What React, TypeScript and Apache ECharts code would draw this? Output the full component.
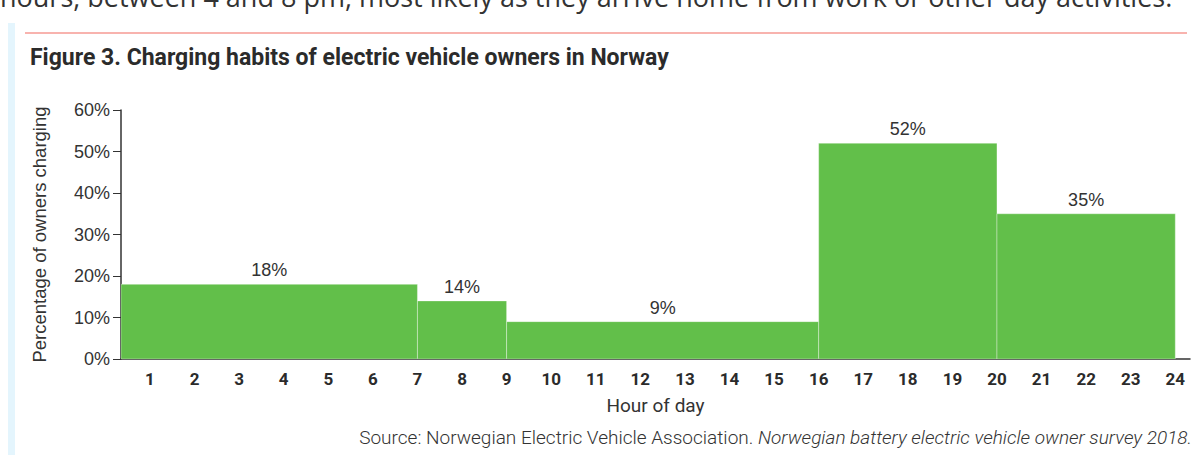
import React, { useEffect, useRef } from "react";
import * as echarts from "echarts";

const hourStarts = [0, 7, 9, 16, 20];
const hourEnds = [7, 9, 16, 20, 24];
const shares = [18, 14, 9, 52, 35];
const hourTicks = [1, 2, 3, 4, 5, 6, 7, 8, 9, 10, 11, 12, 13, 14, 15, 16, 17, 18, 19, 20, 21, 22, 23, 24];

const introText = "hours, between 4 and 8 pm, most likely as they arrive home from work or other day activities.";
const titleText = "Figure 3. Charging habits of electric vehicle owners in Norway";
const sourcePlain = "Source: Norwegian Electric Vehicle Association. ";
const sourceItalic = "Norwegian battery electric vehicle owner survey 2018.";

const GREEN = "#62bf4a";
const TEXT = "#333333";

export default function App() {
  const ref = useRef<HTMLDivElement>(null);
  useEffect(() => {
    if (!ref.current) return;
    const chart = echarts.init(ref.current, undefined, { renderer: "svg" });
    const data = hourStarts.map((s, i) => [s, hourEnds[i], shares[i]]);
    chart.setOption({
      animation: false,
      backgroundColor: "#ffffff",
      grid: { left: 121, right: 8, top: 110, bottom: 96, containLabel: false },
      xAxis: {
        type: "value",
        min: 0.35,
        max: 24.33,
        name: "Hour of day",
        nameLocation: "middle",
        nameGap: 37,
        nameTextStyle: { fontFamily: "Roboto", fontSize: 19, color: TEXT },
        axisLine: { show: true, lineStyle: { color: "#333", width: 1.5 } },
        axisTick: { show: false },
        splitLine: { show: false },
        axisLabel: {
          customValues: hourTicks,
          fontFamily: "Roboto",
          fontWeight: 700,
          fontSize: 17,
          color: "#2b2b2b",
          margin: 11,
        },
      },
      yAxis: {
        type: "value",
        min: 0,
        max: 60,
        interval: 10,
        name: "Percentage of owners charging",
        nameLocation: "middle",
        nameGap: 72,
        nameRotate: 90,
        nameTextStyle: { fontFamily: "Liberation Sans", fontSize: 18.5, color: TEXT },
        axisLine: { show: true, lineStyle: { color: "#333", width: 1.5 } },
        axisTick: { show: true, length: 8, lineStyle: { color: "#333", width: 1 } },
        splitLine: { show: false },
        axisLabel: {
          formatter: "{value}%",
          fontFamily: "Liberation Sans",
          fontSize: 18,
          color: TEXT,
          margin: 11,
        },
      },
      series: [
        {
          type: "custom",
          data,
          clip: true,
          z: 1,
          renderItem: (params: any, api: any) => {
            const s = api.value(0);
            const e = api.value(1);
            const v = api.value(2);
            const p0 = api.coord([s, v]);
            const p1 = api.coord([e, 0]);
            const cs = params.coordSys;
            const x0 = Math.max(p0[0], cs.x);
            const x1 = Math.min(p1[0], cs.x + cs.width);
            return {
              type: "group",
              children: [
                {
                  type: "rect",
                  shape: { x: x0, y: p0[1], width: x1 - x0, height: p1[1] - p0[1] },
                  style: { fill: GREEN, stroke: "rgba(255,255,255,0.35)", lineWidth: 1 },
                },
                {
                  type: "text",
                  x: (x0 + x1) / 2,
                  y: p0[1] - 5,
                  style: {
                    text: v + "%",
                    fill: TEXT,
                    fontFamily: "Liberation Sans",
                    fontSize: 18,
                    align: "center",
                    verticalAlign: "bottom",
                  },
                },
              ],
            };
          },
        },
      ],
      graphic: [
        { type: "rect", shape: { x: 8, y: 23, width: 7, height: 440 }, style: { fill: "#e4f5fd" }, silent: true },
        {
          type: "text",
          x: 0,
          y: -4,
          style: {
            text: introText,
            fontFamily: "Open Sans",
            fontSize: 27,
            fill: "#333",
            align: "left",
            verticalAlign: "middle",
          },
        },
        {
          type: "line",
          shape: { x1: 25, y1: 33, x2: 1187, y2: 33 },
          style: { stroke: "#f8b3ae", lineWidth: 2 },
        },
        {
          type: "text",
          x: 30,
          y: 57,
          style: {
            text: titleText,
            fontFamily: "Roboto",
            fontWeight: 700,
            fontSize: 23,
            fill: "#2b2b2b",
            align: "left",
            verticalAlign: "middle",
          },
        },
        {
          type: "text",
          x: 1192,
          y: 437,
          style: {
            text: "{n|" + sourcePlain + "}{i|" + sourceItalic + "}",
            align: "right",
            verticalAlign: "middle",
            rich: {
              n: { fontFamily: "Roboto", fontSize: 19, fill: "#333", fontWeight: 300 },
              i: { fontFamily: "Roboto", fontSize: 19, fill: "#333", fontStyle: "italic", fontWeight: 300 },
            },
          },
        },
      ],
    });
    return () => chart.dispose();
  }, []);
  return (
    <div
      ref={ref}
      style={{ position: "absolute", left: 0, top: 0, width: 1198, height: 455 }}
    />
  );
}
